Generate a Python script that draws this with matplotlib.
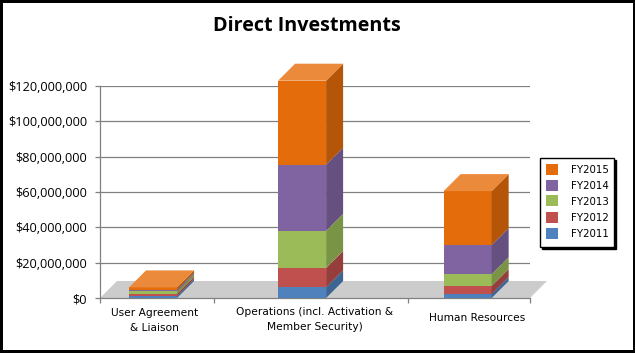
import matplotlib
matplotlib.use("Agg")
import matplotlib.pyplot as plt
from matplotlib.patches import Polygon, Rectangle
from matplotlib.ticker import FuncFormatter

# values, in dollars
categories = ["User Agreement\n& Liaison",
              "Operations (incl. Activation &\nMember Security)",
              "Human Resources"]
years = ["FY2011", "FY2012", "FY2013", "FY2014", "FY2015"]
fy2011 = [1100000, 6000000, 2300000]
fy2012 = [1300000, 11000000, 4500000]
fy2013 = [1400000, 21000000, 6700000]
fy2014 = [900000, 37500000, 16500000]
fy2015 = [1300000, 47500000, 30500000]
series = [fy2011, fy2012, fy2013, fy2014, fy2015]
colors = ["#4f81bd", "#c0504d", "#9bbb59", "#8064a2", "#e46c0a"]
side_colors = ["#3d6594", "#963e3c", "#7a9446", "#65507f", "#b45508"]
top_color = "#eb8a3a"

bar_x = [0, 1.04, 2.195]
label_x = [0.01, 1.13, 2.26]
label_y = [-5500000, -5200000, -8600000]
ticks = [-0.37, 0.425, 1.78, 2.63]
y_ticks = [0, 20000000, 40000000, 60000000, 80000000, 100000000, 120000000]

W, H = 635, 353
plt.rcParams["font.family"] = ["DejaVu Sans"]
fig = plt.figure(figsize=(W / 100, H / 100), dpi=100)

# frame round the picture, thicker on the right and bottom
fig.add_artist(Rectangle((0, 0), 1, 1, transform=fig.transFigure, fc="black",
                         ec="none", zorder=-2))
fig.add_artist(Rectangle((3 / W, 3.5 / H), 629.5 / W, 346.5 / H, transform=fig.transFigure,
                         fc="white", ec="none", zorder=-1))

ax = fig.add_axes([100 / W, 1 - 298 / H, 430 / W, 212 / H])
ax.set_xlim(-0.37, 2.63)
ax.set_ylim(0, 120000000)
ax.patch.set_alpha(0)

# depth of the 3d look, in axes units
dx = 17 / 143.3
dy = 17 / 212 * 120000000
bar_w = 48 / 143.3

for s in ["top", "right"]:
    ax.spines[s].set_visible(False)
for s in ["left", "bottom"]:
    ax.spines[s].set_color("#808080")
    ax.spines[s].set_linewidth(0.9)

ax.set_yticks(y_ticks)
ax.yaxis.set_major_formatter(FuncFormatter(lambda v, p: "${:,.0f}".format(v)))
for lab in ax.get_yticklabels():
    lab.set_family(["Open Sans", "DejaVu Sans"])
ax.set_xticks(ticks)
ax.set_xticklabels([])
ax.tick_params(axis="both", color="#808080", length=3.8, width=0.9)
ax.tick_params(axis="y", labelsize=9.2, pad=5.5)
ax.grid(axis="y", color="#808080", lw=0.9)
ax.set_axisbelow(True)

# grey floor
x0, x1 = ax.get_xlim()
ax.add_patch(Polygon([(x0, 0), (x1, 0), (x1 + dx, dy), (x0 + dx, dy)],
                     fc="#cccccc", ec="none", zorder=1.5, clip_on=False))

for i, x in enumerate(bar_x):
    left = x - bar_w / 2
    right = x + bar_w / 2
    base = 0
    for j, vals in enumerate(series):
        top = base + vals[i]
        ax.add_patch(Rectangle((left, base), bar_w, vals[i], fc=colors[j],
                               ec="none", zorder=3, clip_on=False))
        ax.add_patch(Polygon([(right, base), (right + dx, base + dy),
                              (right + dx, top + dy), (right, top)],
                             fc=side_colors[j], ec="none", zorder=3, clip_on=False))
        base = top
    ax.add_patch(Polygon([(left, base), (right, base), (right + dx, base + dy),
                          (left + dx, base + dy)],
                         fc=top_color, ec="none", zorder=3, clip_on=False))
    ax.text(label_x[i], label_y[i], categories[i], ha="center", va="top", fontsize=7.7,
            linespacing=1.6, clip_on=False)

fig.text(306.5 / W, 1 - 26 / H, "Direct Investments", ha="center", va="center",
         fontsize=14.2, fontweight="bold", family=["Open Sans", "DejaVu Sans"])

# legend box with hard shadow
lx, ly, lw_, lh = 539.5, 157.5, 74, 89
fig.add_artist(Rectangle(((lx + 2.5) / W, 1 - (ly + lh + 2.5) / H), lw_ / W, lh / H,
                         transform=fig.transFigure, fc="black", ec="black", lw=1))
fig.add_artist(Rectangle((lx / W, 1 - (ly + lh) / H), lw_ / W, lh / H,
                         transform=fig.transFigure, fc="white", ec="black", lw=1))
for k, (name, c) in enumerate(zip(years[::-1], colors[::-1])):
    yc = 169 + k * 16
    fig.add_artist(Rectangle((546 / W, 1 - (yc + 5.5) / H), 12 / W, 11 / H,
                             transform=fig.transFigure, fc=c, ec="none"))
    fig.text(571 / W, 1 - (yc + 1) / H, name, ha="left", va="center", fontsize=7.4)

fig.savefig("out.png", dpi=100)
